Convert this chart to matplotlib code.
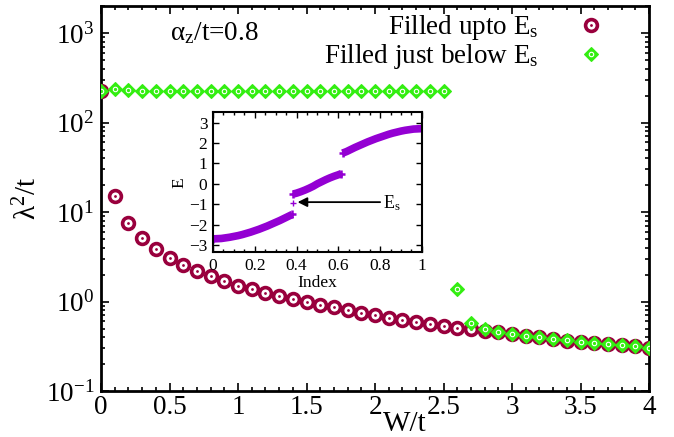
import matplotlib
matplotlib.use('Agg')
import matplotlib.pyplot as plt
from matplotlib.ticker import MultipleLocator, LogLocator, NullFormatter

plt.rcParams['font.family'] = ['Liberation Serif', 'DejaVu Serif']
plt.rcParams['mathtext.fontset'] = 'custom'
plt.rcParams['mathtext.rm'] = 'Liberation Serif'
plt.rcParams['mathtext.it'] = 'Liberation Serif:italic'
plt.rcParams['mathtext.bf'] = 'Liberation Serif:bold'

# main panel: lambda^2/t versus W/t
w_upto = [0.0, 0.1, 0.2, 0.3, 0.4, 0.5, 0.6, 0.7, 0.8, 0.9, 1.0, 1.1, 1.2, 1.3,
          1.4, 1.5, 1.6, 1.7, 1.8, 1.9, 2.0, 2.1, 2.2, 2.3, 2.4, 2.5, 2.6, 2.7,
          2.8, 2.9, 3.0, 3.1, 3.2, 3.3, 3.4, 3.5, 3.6, 3.7, 3.8, 3.9, 4.0]
lam_upto = [228, 15.2, 7.65, 5.13, 3.87, 3.09, 2.58, 2.22, 1.91, 1.70, 1.51,
            1.37, 1.25, 1.15, 1.07, 0.99, 0.92, 0.86, 0.80, 0.75, 0.70, 0.66,
            0.625, 0.594, 0.564, 0.54, 0.513, 0.488, 0.467, 0.452, 0.433,
            0.415, 0.398, 0.384, 0.367, 0.355, 0.346, 0.334, 0.326, 0.316, 0.302]

w_below = [0.0, 0.1, 0.2, 0.3, 0.4, 0.5, 0.6, 0.7, 0.8, 0.9, 1.0, 1.1, 1.2, 1.3,
           1.4, 1.5, 1.6, 1.7, 1.8, 1.9, 2.0, 2.1, 2.2, 2.3, 2.4, 2.5, 2.6, 2.7,
           2.8, 2.9, 3.0, 3.1, 3.2, 3.3, 3.4, 3.5, 3.6, 3.7, 3.8, 3.9, 4.0]
lam_below = [227, 239, 230, 228, 227, 227, 227, 227, 227, 227, 227, 227, 227,
             227, 227, 227, 227, 227, 227, 227, 227, 227, 227, 227, 227, 227,
             1.39, 0.58, 0.496, 0.46, 0.435, 0.416, 0.399, 0.384, 0.368, 0.356,
             0.346, 0.335, 0.326, 0.316, 0.302]

# inset: single particle energies E versus normalised index
idx_band1 = [0.0, 0.02, 0.04, 0.06, 0.08, 0.10, 0.12, 0.14, 0.16, 0.18, 0.20,
             0.22, 0.24, 0.26, 0.28, 0.30, 0.32, 0.34, 0.36, 0.38]
e_band1 = [-2.70, -2.69, -2.68, -2.65, -2.62, -2.58, -2.54, -2.49, -2.43, -2.37,
           -2.30, -2.23, -2.15, -2.07, -1.98, -1.89, -1.80, -1.70, -1.60, -1.50]
idx_band2 = [0.385, 0.40, 0.42, 0.44, 0.46, 0.48, 0.50, 0.52, 0.54, 0.56, 0.58,
             0.60, 0.615]
e_band2 = [-0.50, -0.46, -0.39, -0.31, -0.22, -0.12, 0.0, 0.10, 0.20, 0.29,
           0.37, 0.44, 0.50]
idx_band3 = [0.62, 0.64, 0.66, 0.68, 0.70, 0.72, 0.74, 0.76, 0.78, 0.80, 0.82,
             0.84, 0.86, 0.88, 0.90, 0.92, 0.94, 0.96, 0.98, 1.00]
e_band3 = [1.50, 1.58, 1.68, 1.78, 1.87, 1.96, 2.05, 2.13, 2.21, 2.28, 2.35,
           2.42, 2.48, 2.53, 2.58, 2.62, 2.65, 2.68, 2.69, 2.70]
idx_es = [0.384]
e_es = [-0.93]

red = '#99003d'
green = '#33ee11'
purple = '#9400d3'

fig = plt.figure(figsize=(6.74, 4.37), dpi=100)
ax = fig.add_axes([0.150, 0.105, 0.813, 0.881])

# markers: ring with dot / diamond with white ring
r1, = ax.plot(w_upto, lam_upto, ls='none', marker='o', ms=8.5, mfc='white',
              mec=red, mew=2.6, zorder=3)
r2, = ax.plot(w_upto, lam_upto, ls='none', marker='o', ms=2.0, mfc=red,
              mec=red, mew=0, zorder=3)
g1, = ax.plot(w_below, lam_below, ls='none', marker='D', ms=7.5, mfc=green,
              mec=green, mew=0.8, zorder=4)
g2, = ax.plot(w_below, lam_below, ls='none', marker='o', ms=3.2, mfc=green,
              mec='white', mew=0.8, zorder=4)

ax.set_yscale('log')
ax.set_xlim(0, 4)
ax.set_ylim(0.1, 2000)
ax.xaxis.set_major_locator(MultipleLocator(0.5))
ax.xaxis.set_minor_locator(MultipleLocator(0.1))
ax.yaxis.set_major_locator(LogLocator(base=10, numticks=10))
ax.yaxis.set_minor_locator(LogLocator(base=10, subs=range(2, 10), numticks=10))
ax.yaxis.set_minor_formatter(NullFormatter())
ax.xaxis.set_major_formatter(plt.FuncFormatter(lambda v, p: f'{v:g}'))
ax.tick_params(which='both', direction='in', top=True, right=True, width=1.2)
ax.tick_params(which='major', length=6, labelsize=19.5)
ax.tick_params(which='minor', length=3)
ax.tick_params(axis='y', which='major', pad=5)
ax.tick_params(axis='x', which='major', pad=3)
for s in ax.spines.values():
    s.set_linewidth(2)

ax.set_xlabel('W/t', fontsize=21)
ax.xaxis.set_label_coords(0.555, -0.052)
ax.set_ylabel('λ$^{2}$/t', fontsize=21)
ax.yaxis.set_label_coords(-0.108, 0.5)

ax.text(0.126, 0.93, 'α$_{\\rm z}$/t=0.8', transform=ax.transAxes,
        fontsize=19.5, va='center', ha='left')

leg = ax.legend([(r1, r2), (g1, g2)],
                ['Filled upto E$_{\\rm s}$', 'Filled just below E$_{\\rm s}$'],
                loc='upper right', bbox_to_anchor=(0.917, 0.982),
                frameon=False, markerfirst=False, fontsize=19.5,
                handlelength=0.9, handletextpad=1.5, labelspacing=0.0,
                borderpad=0, borderaxespad=0)

# inset
ins = fig.add_axes([0.316, 0.423, 0.310, 0.320])
for xs, es in [(idx_band1, e_band1), (idx_band2, e_band2), (idx_band3, e_band3)]:
    ins.plot(xs, es, color=purple, lw=5.5, solid_capstyle='butt')
    ins.plot([xs[0], xs[-1]], [es[0], es[-1]], ls='none', marker='+', ms=6,
             mew=1.8, color=purple)
ins.plot(idx_es, e_es, ls='none', marker='+', ms=5, mew=1.0, color=purple)
ins.annotate('', xy=(0.405, -0.9), xytext=(0.80, -0.9),
             arrowprops=dict(arrowstyle='-|>', color='black', lw=1.3,
                             mutation_scale=14, shrinkA=0, shrinkB=0))
ins.text(0.815, -0.95, 'E$_{\\rm s}$', fontsize=13, va='center', ha='left')

ins.set_xlim(0, 1)
ins.set_ylim(-3.35, 3.5)
ins.xaxis.set_major_locator(MultipleLocator(0.2))
ins.xaxis.set_minor_locator(MultipleLocator(0.05))
ins.yaxis.set_major_locator(MultipleLocator(1))
ins.xaxis.set_major_formatter(plt.FuncFormatter(lambda v, p: f'{v:g}'))
ins.tick_params(which='both', direction='in', top=True, right=True, width=1.0)
ins.tick_params(which='major', length=4, labelsize=12.5, pad=4)
ins.tick_params(which='minor', length=2.5)
for s in ins.spines.values():
    s.set_linewidth(1.5)
ins.set_xlabel('Index', fontsize=12.5, labelpad=1)
ins.set_ylabel('E', fontsize=12.5, labelpad=1)

fig.savefig('out.png', dpi=100)
